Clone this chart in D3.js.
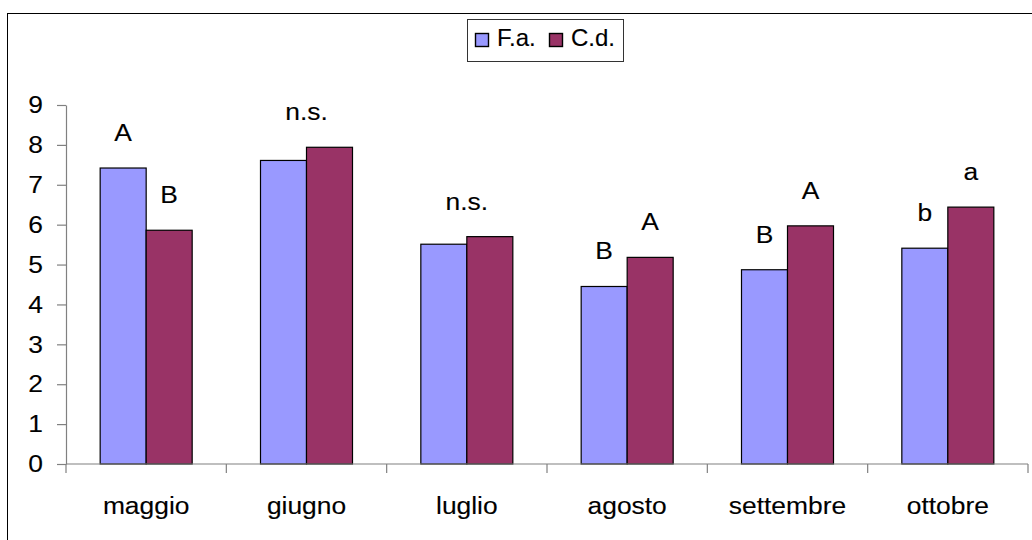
<!DOCTYPE html>
<html>
<head>
<meta charset="utf-8">
<script src="https://cdn.jsdelivr.net/npm/d3@7"></script>
<style>
  html, body { margin: 0; padding: 0; background: #fff; }
  svg { display: block; font-family: "Liberation Sans", Arial, sans-serif; }
  svg text { stroke: #000; stroke-width: 0.12px; }
</style>
</head>
<body>
<svg id="chart" width="1032" height="540"></svg>
<script>
// ---- data ----
const categories = ["maggio", "giugno", "luglio", "agosto", "settembre", "ottobre"];
const seriesNames = ["F.a.", "C.d."];
const faValues = [7.42, 7.61, 5.51, 4.45, 4.87, 5.41];
const cdValues = [5.86, 7.94, 5.70, 5.18, 5.97, 6.44];
const faLetters = ["A", "", "", "B", "B", "b"];
const cdLetters = ["B", "", "", "A", "A", "a"];
const groupNotes = ["", "n.s.", "n.s.", "", "", ""];
const yTicks = [0, 1, 2, 3, 4, 5, 6, 7, 8, 9];

// ---- setup ----
const colors = { "F.a.": "#9999FF", "C.d.": "#993366" };
const svg = d3.select("#chart");
const FS = 24, SX = 1.1;

// outer frame (right/bottom edges off-canvas)
svg.append("rect").attr("x", 7.5).attr("y", 13.5).attr("width", 1100).attr("height", 600)
  .attr("fill", "none").attr("stroke", "#000").attr("stroke-width", 1);

const x = d3.scaleBand().domain(categories).range([66, 1028]).paddingInner(0).paddingOuter(0);
const y = d3.scaleLinear().domain([0, 9]).range([464, 105]);
const groupW = 92;
const x1 = d3.scaleBand().domain(seriesNames)
  .range([x.bandwidth() / 2 - groupW / 2, x.bandwidth() / 2 + groupW / 2]);

const rows = categories.map((c, i) => ({
  cat: c,
  vals: [
    { s: "F.a.", v: faValues[i], letter: faLetters[i] },
    { s: "C.d.", v: cdValues[i], letter: cdLetters[i] }
  ],
  note: groupNotes[i]
}));

function stretchedText(sel, px, py, txt, anchor) {
  return sel.append("text")
    .attr("transform", `translate(${px},${py}) scale(${SX},1)`)
    .attr("text-anchor", anchor || "middle")
    .attr("font-size", FS)
    .attr("fill", "#000")
    .text(txt);
}

// bars
const g = svg.append("g").selectAll("g").data(rows).join("g")
  .attr("transform", d => `translate(${x(d.cat)},0)`);
g.selectAll("rect").data(d => d.vals).join("rect")
  .attr("x", d => x1(d.s))
  .attr("width", x1.bandwidth())
  .attr("y", d => y(d.v))
  .attr("height", d => y(0) - y(d.v))
  .attr("fill", d => colors[d.s])
  .attr("stroke", "#000")
  .attr("stroke-width", 1.2);

// significance labels
const off = 27;
rows.forEach(r => {
  r.vals.forEach(d => {
    if (d.letter) stretchedText(svg, x(r.cat) + x1(d.s) + x1.bandwidth() / 2, y(d.v) - off, d.letter);
  });
  if (r.note) {
    const top = d3.max(r.vals, d => d.v);
    stretchedText(svg, x(r.cat) + x.bandwidth() / 2, y(top) - off, r.note);
  }
});

// y axis
const yAxis = svg.append("g").attr("transform", "translate(66,0)")
  .call(d3.axisLeft(y).tickValues(yTicks).tickSize(9).tickSizeOuter(0).tickFormat(d3.format("d")));
yAxis.select(".domain").attr("stroke", "#808080").attr("stroke-width", 1.2);
yAxis.selectAll(".tick line").attr("stroke", "#808080").attr("stroke-width", 1.2);
yAxis.selectAll(".tick text")
  .attr("x", 0)
  .attr("transform", `translate(-23,0) scale(${SX},1)`)
  .attr("font-size", FS).attr("font-family", "Liberation Sans, Arial, sans-serif")
  .attr("fill", "#000");

// x axis
const xAxis = svg.append("g").attr("transform", `translate(0,${y(0)})`);
xAxis.append("line").attr("x1", 66).attr("x2", 1028).attr("y1", 0).attr("y2", 0)
  .attr("stroke", "#808080").attr("stroke-width", 1.2);
const boundaries = categories.map(c => x(c)).concat([x.range()[1]]);
xAxis.selectAll("line.tk").data(boundaries).join("line").attr("class", "tk")
  .attr("x1", d => d).attr("x2", d => d).attr("y1", 0).attr("y2", 9)
  .attr("stroke", "#808080").attr("stroke-width", 1.2);
categories.forEach(c => {
  stretchedText(svg, x(c) + x.bandwidth() / 2, 514, c);
});

// legend
const lg = svg.append("g");
lg.append("rect").attr("x", 467.5).attr("y", 19.5).attr("width", 156).attr("height", 42)
  .attr("fill", "#fff").attr("stroke", "#333").attr("stroke-width", 1);
const legX = d3.scaleOrdinal().domain(seriesNames).range([475, 549]);
seriesNames.forEach(s => {
  lg.append("rect").attr("x", legX(s) + 0.5).attr("y", 33.5).attr("width", 13).attr("height", 13)
    .attr("fill", colors[s]).attr("stroke", "#000").attr("stroke-width", 1.4);
  lg.append("text")
    .attr("transform", `translate(${legX(s) + 22},46) scale(1.0,1)`)
    .attr("font-size", FS).attr("fill", "#000").text(s);
});
</script>
</body>
</html>
